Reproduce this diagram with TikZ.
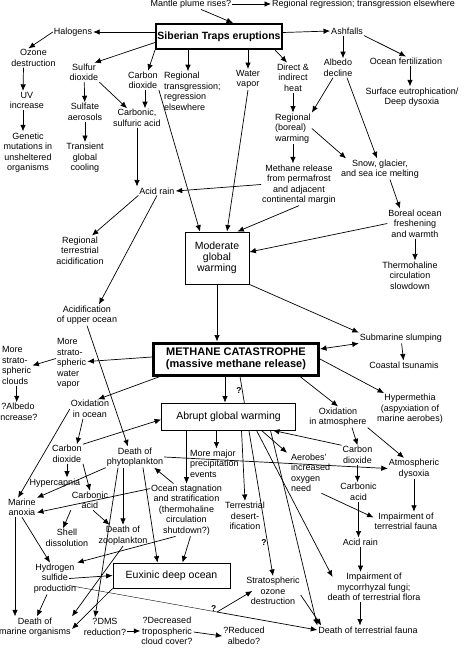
\documentclass[tikz,border=0pt]{standalone}
\usepackage{fontspec}
\setmainfont{Liberation Sans}
\usetikzlibrary{arrows.meta,backgrounds}

\begin{document}
\begin{tikzpicture}[x=1pt, y=-1pt,
    font=\fontsize{9}{10.5}\selectfont,
    every node/.style={inner sep=1pt, align=center},
    frame/.style={draw, line width=0.8pt, inner sep=0pt, fill=white,
                  font=\fontsize{10.5}{11}\selectfont},
    heavy/.style={draw, inner sep=0pt, fill=white},
    arr/.style={-{Latex[length=6.5pt,width=5.5pt]}, line width=0.7pt},
    twoway/.style={{Latex[length=6.5pt,width=5.5pt]}-{Latex[length=6.5pt,width=5.5pt]}, line width=0.7pt},
    qm/.style={inner sep=0.5pt, font=\bfseries\fontsize{8.5}{9}\selectfont}]
    \useasboundingbox (0,0) rectangle (469,648);

    % --- top: the eruptions and their direct products ---
    \node (mantle) at (191,4) {Mantle plume rises?};
    \node[anchor=west] (regress) at (271,4) {Regional regression; transgression elsewhere};
    \node[heavy, line width=2pt, minimum width=126pt, minimum height=25pt,
          font=\bfseries\fontsize{10.5}{12}\selectfont] (traps) at (219,36.5) {Siberian Traps eruptions};
    \node (halogens) at (73,32) {Halogens};
    \node (ozone) at (33.5,58) {Ozone\\destruction};
    \node (uv) at (27,100.5) {UV\\increase};
    \node (genetic) at (28,152.5) {Genetic\\mutations in\\unsheltered\\organisms};
    \node (so2) at (84,72.5) {Sulfur\\dioxide};
    \node (sulfate) at (85,112) {Sulfate\\aerosols};
    \node (cooling) at (85,158) {Transient\\global\\cooling};
    \node (co2) at (143,80.5) {Carbon\\dioxide};
    \node (csacid) at (137,118) {Carbonic,\\sulfuric acid};
    \node[anchor=west, align=left] (transg) at (163,91.5) {Regional\\transgression;\\regression\\elsewhere};
    \node (water) at (248,79.5) {Water\\vapor};
    \node (heat) at (293,77.5) {Direct \&\\indirect\\heat};
    \node (ashfalls) at (347,31) {Ashfalls};
    \node (albedo) at (338,68) {Albedo\\decline};
    \node (fert) at (406,61) {Ocean fertilization};
    \node (eutroph) at (412,97) {Surface eutrophication/\\Deep dysoxia};
    \node[anchor=west, align=left] (boreal) at (274,128.5) {Regional\\(boreal)\\warming};
    \node (snow) at (380,169) {Snow, glacier,\\and sea ice melting};
    \node (methrel) at (299,184.5) {Methane release\\from permafrost\\and adjacent\\continental margin};
    \node (acidrain) at (157,191) {Acid rain};
    \node (borocean) at (415,223.5) {Boreal ocean\\freshening\\and warmth};
    \node (thermo) at (410,275.5) {Thermohaline\\circulation\\slowdown};
    \node (regterr) at (80,250.5) {Regional\\terrestrial\\acidification};
    \node[frame, minimum width=64pt, minimum height=52pt] (moderate) at (217,258) {Moderate\\global\\warming};
    \node (acidocean) at (87,315) {Acidification\\of upper ocean};

    % --- the catastrophe and its first effects ---
    \node[heavy, line width=3pt, minimum width=165pt, minimum height=32pt,
          font=\bfseries\fontsize{11}{11.5}\selectfont] (methcat) at (236,359) {METHANE CATASTROPHE\\(massive methane release)};
    \node[anchor=west, align=left] (waterstrat) at (56,363.5) {More\\strato-\\spheric\\water\\vapor};
    \node[anchor=west, align=left] (clouds) at (1,365.5) {More\\strato-\\spheric\\clouds};
    \node (albinc) at (18,412) {?Albedo\\increase?};
    \node (slump) at (401,338) {Submarine slumping};
    \node (tsunami) at (404,365) {Coastal tsunamis};
    \node (hyper) at (410,409) {Hypermethia\\(aspyxiation of\\marine aerobes)};
    \node (oxocean) at (90,409) {Oxidation\\in ocean};
    \node (oxatm) at (338,417) {Oxidation\\in atmosphere};
    \node[frame, minimum width=134pt, minimum height=27pt] (abrupt) at (228.5,416.5) {Abrupt global warming};

    % --- ocean side ---
    \node (co2ocean) at (67,454) {Carbon\\dioxide};
    \node (phyto) at (135,457) {Death of\\phytoplankton};
    \node (hypercap) at (55,483) {Hypercapnia};
    \node (carbacid) at (90,500.5) {Carbonic\\acid};
    \node (marineanox) at (22,507.5) {Marine\\anoxia};
    \node (stagn) at (186.5,510) {Ocean stagnation\\and stratification\\(thermohaline\\circulation\\shutdown?)};
    \node (shell) at (67,538) {Shell\\dissolution};
    \node (zoo) at (123,535.5) {Death of\\zooplankton};
    \node (h2s) at (55,578.5) {Hydrogen\\sulfide\\production};
    \node[frame, minimum width=117pt, minimum height=25pt] (euxinic) at (171.5,575.5) {Euxinic deep ocean};
    \node (deathmar) at (35,627) {Death of\\marine organisms};
    \node (dms) at (105,627) {?DMS\\reduction?};
    \node (clouddec) at (167,631) {?Decreased\\tropospheric\\cloud cover?};
    \node (redalb) at (244,636) {?Reduced\\albedo?};

    % --- land and atmosphere side ---
    \node[anchor=west, align=left] (precip) at (189,463.5) {More major\\precipitation\\events};
    \node (terrdes) at (245,516) {Terrestrial\\desert-\\ification};
    \node[anchor=west, align=left] (aerobes) at (290,473) {Aerobes'\\increased\\oxygen\\need};
    \node (co2atm) at (357.5,455) {Carbon\\dioxide};
    \node (dysoxia) at (414,468.5) {Atmospheric\\dysoxia};
    \node (carbacid2) at (358.5,492) {Carbonic\\acid};
    \node (imptf) at (406,521.5) {Impairment of\\terrestrial fauna};
    \node (acidrain2) at (360.5,542) {Acid rain};
    \node (mycor) at (374,587) {Impairment of\\mycorrhyzal fungi;\\death of terrestrial flora};
    \node (ozonestr) at (273,591) {Stratospheric\\ozone\\destruction};
    \node (deathterr) at (368,630) {Death of terrestrial fauna};
    \coordinate (bq) at (217,612);

    % --- connectors: top ---
    \draw[arr] ([xshift=10pt]mantle.south) -- ([xshift=14pt]traps.north);
    \draw[arr] (mantle.east) -- (regress.west);
    \draw[arr] ([yshift=4.5pt]traps.west) -- (halogens.east);
    \draw[arr] ([yshift=4pt]traps.east) -- (ashfalls.west);
    \draw[arr] ([yshift=-6pt]traps.west) -- ([xshift=-5pt]so2.north east);
    \draw[arr] (traps.south west) -- ([xshift=5pt]co2.north);
    \draw[arr] ([xshift=-31pt]traps.south) -- ([xshift=-31pt]traps.south |- transg.north);
    \draw[arr] (traps.south -| water.north) -- (water.north);
    \draw[arr] ([xshift=-8pt]traps.south east) -- ([xshift=-6pt]heat.north);
    \draw[arr] (halogens.west) -- ([xshift=-5pt]ozone.north);
    \draw[arr] ([xshift=-10pt]ozone.south) -- ([xshift=-4pt]uv.north);
    \draw[arr] ([xshift=-4pt]uv.south) -- ([xshift=-5pt]genetic.north);
    \draw[arr] (so2) -- (sulfate);
    \draw[arr] (sulfate) -- (cooling);
    \draw[arr] (so2.south east) -- ([xshift=-10pt]csacid.north);
    \draw[arr] ([xshift=2pt]co2.south) -- ([xshift=8pt]csacid.north);
    \draw[arr] (csacid.south) -- (csacid.south |- acidrain.north);
    \draw[arr] (co2.south east) -- ([xshift=-17pt]moderate.north);
    \draw[arr] (water.south) -- ([xshift=10pt]moderate.north);
    \draw[arr] (heat.south) -- (heat.south |- boreal.north);
    \draw[arr] ([xshift=-4pt]ashfalls.south) -- ([xshift=5pt]albedo.north);
    \draw[arr] (ashfalls.south east) -- (fert.north);
    \draw[arr] ([xshift=4pt]fert.south) -- ([xshift=-2pt]eutroph.north);
    \draw[arr] ([xshift=-5pt]albedo.south) -- (boreal.north east);
    \draw[arr] ([xshift=9pt]albedo.south) -- ([xshift=-3pt]snow.north);
    \draw[arr] (boreal.east) -- ([xshift=6pt]snow.north west);
    \draw[arr] (boreal.south) -- (boreal.south |- methrel.north);
    \draw[arr] (methrel.west) -- (acidrain.east);
    \draw[arr] (methrel.south) -- ([xshift=-12pt]moderate.north east);
    \draw[arr] ([xshift=10pt]snow.south) -- ([xshift=-15pt]borocean.north);
    \draw[arr] (borocean.west) -- ([yshift=6pt]moderate.east);
    \draw[arr] (borocean.south) -- (borocean.south |- thermo.north);
    \draw[arr] (acidrain.south west) -- ([xshift=12pt]regterr.north);
    \draw[arr] (acidrain.south) -- ([xshift=12pt]acidocean.north);

    % --- connectors: middle ---
    \draw[arr] (moderate.south) -- (moderate.south |- methcat.north);
    \draw[arr] (moderate.south east) -- (slump.north west);
    \draw[twoway] ([yshift=10pt]methcat.east) -- (slump.south west);
    \draw[arr] (slump) -- (tsunami);
    \draw[arr] (methcat.east) -- ([xshift=8pt]hyper.north west);
    \draw[arr] ([xshift=-20pt]methcat.south east) -- (oxatm.north);
    \draw[arr] ([xshift=-11pt]methcat.south) -- ([xshift=-3.5pt]abrupt.north);
    \draw[arr] ([yshift=2pt]methcat.west) -- ([yshift=2pt]waterstrat.east);
    \draw[arr] ([yshift=5pt]waterstrat.west) -- (clouds.east);
    \draw[arr] (clouds.south) -- (clouds.south |- albinc.north);
    \draw[arr] ([xshift=8pt]methcat.south west) -- ([xshift=8pt]oxocean.north);
    \begin{scope}[on background layer]
      \draw[arr] ([xshift=4pt]methcat.south) -- node[qm, pos=0.07, anchor=east] (q1) {?}
        node[qm, pos=0.83, anchor=east] (q2) {?} (ozonestr.north);
    \end{scope}

    % --- connectors: ocean ---
    \draw[arr] (acidocean.south) -- ([xshift=-7pt]phyto.north);
    \draw[arr] ([xshift=-7pt]oxocean.south) -- ([xshift=10pt]co2ocean.north);
    \draw[arr] (oxocean.west) -- ([xshift=-4pt]marineanox.north);
    \draw[arr] (co2ocean.north east) -- ([yshift=-3pt]abrupt.west);
    \draw[arr] (co2ocean.south) -- (co2ocean.south |- hypercap.north);
    \draw[arr] (co2ocean.south east) -- (carbacid.north);
    \draw[arr] (phyto.south west) -- (marineanox.north east);
    \draw[arr] ([xshift=-12pt]phyto.south) -- (zoo.north);
    \draw[arr] ([xshift=-17pt]phyto.south) -- ([xshift=-10pt]dms.north);
    \draw[arr] ([xshift=8pt]phyto.south) -- ([xshift=-14pt]euxinic.north);
    \draw[arr] (phyto.east) -- (dysoxia.west);
    \draw[arr] ([xshift=-13pt]stagn.north) -- ([xshift=-10pt]phyto.south east);
    \draw[arr] ([yshift=-5pt]stagn.north west) -- ([yshift=-5pt]marineanox.east);
    \draw[arr] ([xshift=4pt]stagn.south) -- ([xshift=11pt]euxinic.north);
    \draw[arr] ([xshift=-11pt]stagn.south) -- (h2s.north east);
    \draw[arr] (carbacid.south west) -- ([xshift=-4pt]shell.north);
    \draw[arr] ([xshift=3pt]carbacid.south) -- ([xshift=12pt]zoo.north west);
    \draw[arr] (marineanox.south) -- ([xshift=-5pt]h2s.north);
    \draw[arr] ([xshift=-7pt]marineanox.south) -- ([xshift=-7pt]marineanox.south |- deathmar.north);
    \draw[arr] ([xshift=-8pt]h2s.east) -- (euxinic.west);
    \draw[arr] ([xshift=-8pt]h2s.south) -- ([xshift=2pt]deathmar.north);
    \draw[arr] (zoo.south) -- (deathmar.north east);
    \draw[arr] (euxinic.south west) -- ([yshift=-2pt]deathmar.east);
    \draw[arr] ([yshift=-4pt]dms.east) -- (clouddec.west);
    \draw[arr] ([yshift=-1pt]clouddec.east) -- (redalb.west);
    \draw ([xshift=-8pt,yshift=-7pt]h2s.east) -- (bq);
    \draw[arr] (bq) -- (deathterr.west);
    \draw[arr] (bq) -- ([xshift=7pt]ozonestr.west);
    \node[qm, anchor=south east] (q3) at (bq) {?};

    % --- connectors: land and atmosphere ---
    \draw[arr] (abrupt.south -| stagn.north) -- (stagn.north);
    \draw[arr] ([xshift=-12pt]abrupt.south) -- ([xshift=-12pt]abrupt.south |- precip.north);
    \draw[arr] ([xshift=13pt]abrupt.south) -- (terrdes.north);
    \draw[arr] ([xshift=28pt]abrupt.south) -- ([xshift=6pt,yshift=-5pt]mycor.north west);
    \draw[arr] ([xshift=33pt]abrupt.south) -- ([xshift=-3pt]aerobes.north west);
    \draw[arr] ([xshift=42pt]abrupt.south) -- (deathterr.north west);
    \draw[arr] (co2atm.north west) -- ([xshift=-23pt]abrupt.south east);
    \draw[arr] ([xshift=14pt]oxatm.south) -- (co2atm.north);
    \draw[arr] (oxatm.south east) -- ([xshift=-10pt]dysoxia.north);
    \draw[arr] (co2atm.south) -- (co2atm.south |- carbacid2.north);
    \draw[arr] (carbacid2.south) -- (carbacid2.south |- acidrain2.north);
    \draw[arr] (acidrain2.south) -- (acidrain2.south |- mycor.north);
    \draw[arr] ([xshift=-14pt]mycor.south) -- ([xshift=-14pt]mycor.south |- deathterr.north);
    \draw[arr] (dysoxia.south) -- (dysoxia.south |- imptf.north);
    \draw[arr] ([xshift=-10pt]aerobes.south east) -- ([yshift=4pt]imptf.west);
    \draw[arr] ([yshift=-4pt]ozonestr.east) -- ([xshift=4pt]deathterr.north west);
  \end{tikzpicture}
\end{document}
